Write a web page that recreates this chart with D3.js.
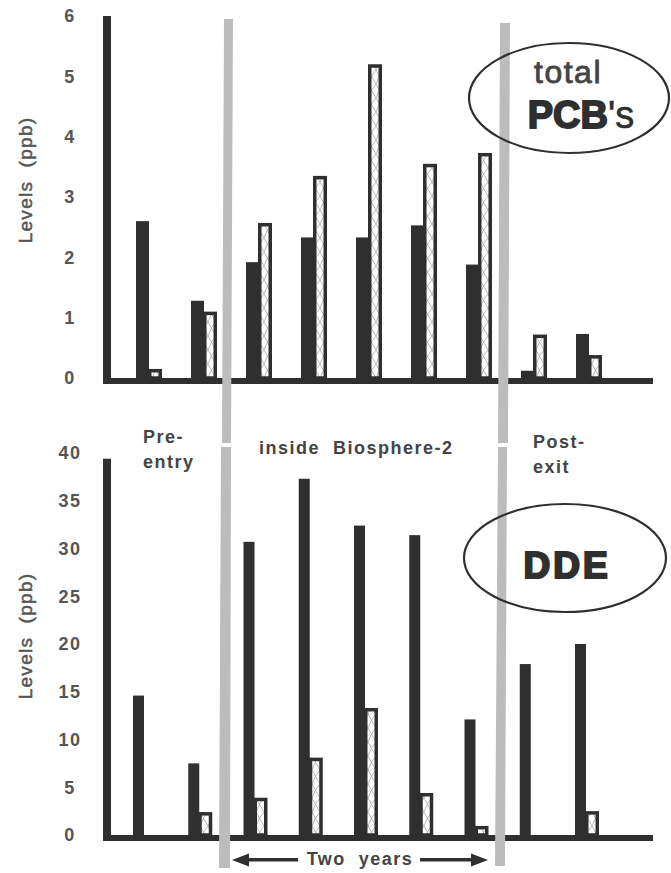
<!DOCTYPE html>
<html><head><meta charset="utf-8">
<script src="https://cdn.jsdelivr.net/npm/d3@7"></script>
<style>body{margin:0;background:#fff}svg{display:block}text{font-family:"Liberation Sans",Arial,sans-serif}</style>
</head><body>
<script>
// ---- data ----
const categories = ["Pre-entry 1","Pre-entry 2","Inside 1","Inside 2","Inside 3","Inside 4","Inside 5","Post-exit 1","Post-exit 2"];
const pcbSolid   = [2.6, 1.28, 1.92, 2.33, 2.33, 2.53, 1.88, 0.12, 0.73];
const pcbHatched = [0.15, 1.1, 2.57, 3.35, 5.2, 3.55, 3.73, 0.72, 0.38];
const ddeSolid   = [14.6, 7.5, 30.7, 37.3, 32.4, 31.4, 12.1, 17.9, 20.0];
const ddeHatched = [null, 2.4, 3.9, 8.1, 13.3, 4.4, 0.95, null, 2.5];
const pcbTicks = [0,1,2,3,4,5,6];
const ddeTicks = [0,5,10,15,20,25,30,35,40];
const periodLabels = [["Pre-","entry"],["inside  Biosphere-2"],["Post-","exit"]];
const yTitle = "Levels  (ppb)";

const W = 671, H = 873;
const ink = "#2f2f2f", txt = "#444", lab = "#555", band = "#bcbcbc";
const svg = d3.select("body").append("svg").attr("width", W).attr("height", H);

const defs = svg.append("defs");
const pat = defs.append("pattern").attr("id","hatch").attr("patternUnits","userSpaceOnUse")
  .attr("width",8).attr("height",14);
pat.append("rect").attr("width",8).attr("height",14).attr("fill","#fff");
pat.append("path").attr("d","M0,14 Q3,5 8,0 M0,0 Q5,9 8,14").attr("stroke","#a5a5a5").attr("stroke-width",0.8).attr("fill","none");

function panel(cfg){
  const g = svg.append("g");
  const y = d3.scaleLinear().domain([0, cfg.max]).range([cfg.y0, cfg.yTop]);
  const x = d3.scalePoint().domain(categories).range(cfg.xr);
  g.selectAll(".s").data(categories.map((c,i)=>({c, v:cfg.solid[i]}))).join("rect")
    .attr("x", d => x(d.c) - cfg.sw + 1).attr("width", cfg.sw)
    .attr("y", d => y(d.v)).attr("height", d => y(0) - y(d.v))
    .attr("fill", ink);
  const hw = cfg.hw, st = 3.5;
  g.selectAll(".h").data(categories.map((c,i)=>({c, v:cfg.hatched[i]})).filter(d=>d.v!=null)).join("rect")
    .attr("x", d => x(d.c) + st/2).attr("width", hw - st)
    .attr("y", d => y(d.v) + st/2).attr("height", d => y(0) - y(d.v) - st/2)
    .attr("fill", "url(#hatch)").attr("stroke", ink).attr("stroke-width", st);
  g.append("rect").attr("x", 103).attr("y", y(0)).attr("width", 653-103).attr("height", 6).attr("fill", ink);
  g.append("rect").attr("x", 103).attr("y", y(cfg.axisTop)).attr("width", 8).attr("height", y(0)-y(cfg.axisTop)+6).attr("fill", ink);
  const ax = g.append("g").call(d3.axisLeft(y).tickValues(cfg.ticks).tickSize(0).tickFormat(d3.format("d")));
  ax.select(".domain").remove();
  ax.selectAll("text").attr("x", 70).attr("dy", cfg.tickDy).attr("text-anchor","middle")
    .attr("font-size", 18).attr("font-weight","bold").attr("fill", lab).attr("letter-spacing", 1.5)
    .attr("font-family","'Liberation Sans',Arial,sans-serif");
  g.append("text").attr("transform", `translate(32,${cfg.titleY}) rotate(-90)`)
    .attr("text-anchor","middle").attr("font-size",19).attr("fill",lab)
    .attr("stroke",lab).attr("stroke-width",0.5)
    .attr("letter-spacing",1.3).style("white-space","pre").text(yTitle);
  return {g, y, x};
}

const pcbPanel = panel({max:6, y0:378, yTop:16, xr:[148,588], sw:13, hw:14, solid:pcbSolid, hatched:pcbHatched,
  ticks:pcbTicks, axisTop:6, tickDy:"0.32em", titleY:180});
const ddePanel = panel({max:40, y0:835, yTop:453, xr:[143,585], sw:11, hw:14, solid:ddeSolid, hatched:ddeHatched,
  ticks:ddeTicks, axisTop:39.4, tickDy:"0.32em", titleY:636});

const bands = [
  [[224,19],[233,19],[231,443],[222,443]],
  [[221,447],[231,447],[230,868],[219,868]],
  [[500,23],[510,23],[508,443],[498,443]],
  [[498,447],[507,447],[505,866],[495,866]]
];
svg.selectAll(".band").data(bands).join("polygon").attr("points", d => d.map(p=>p.join(",")).join(" ")).attr("fill", band);

svg.append("ellipse").attr("cx",569).attr("cy",98).attr("rx",100).attr("ry",55).attr("fill","none").attr("stroke",ink).attr("stroke-width",2.2);
svg.append("ellipse").attr("cx",565).attr("cy",558).attr("rx",101).attr("ry",54).attr("fill","none").attr("stroke",ink).attr("stroke-width",2.2);

svg.append("text").attr("x",568).attr("y",83).attr("text-anchor","middle").attr("font-size",32).attr("letter-spacing",1.5)
  .attr("fill",txt).attr("stroke",txt).attr("stroke-width",0.8).text("total");
const pcb = svg.append("text").attr("x",581).attr("y",128).attr("text-anchor","middle").attr("font-size",38).attr("fill",ink);
pcb.append("tspan").attr("font-weight","bold").attr("stroke",ink).attr("stroke-width",1.8).text("PCB");
pcb.append("tspan").attr("font-weight","normal").attr("stroke",ink).attr("stroke-width",0.6).text("'s");
svg.append("text").attr("x",567).attr("y",578).attr("text-anchor","middle").attr("font-size",37).attr("font-weight","bold")
  .attr("letter-spacing",3).attr("stroke",ink).attr("stroke-width",2.2).attr("fill",ink).text("DDE");

const lblStyle = s => s.attr("font-size",18).attr("font-weight","bold").attr("fill",txt).attr("letter-spacing",1.5).style("white-space","pre");
lblStyle(svg.append("text").attr("x",143).attr("y",443).text(periodLabels[0][0]));
lblStyle(svg.append("text").attr("x",143).attr("y",468).text(periodLabels[0][1]));
lblStyle(svg.append("text").attr("x",259).attr("y",454).text(periodLabels[1][0]));
lblStyle(svg.append("text").attr("x",533).attr("y",448).text(periodLabels[2][0]));
lblStyle(svg.append("text").attr("x",533).attr("y",473).text(periodLabels[2][1]));

lblStyle(svg.append("text").attr("x",360).attr("y",865).attr("text-anchor","middle").text("Two  years"));
svg.append("rect").attr("x",246).attr("y",858).attr("width",52).attr("height",3.5).attr("fill",ink);
svg.append("path").attr("d","M232,860 L249,853.5 L249,866.5 Z").attr("fill",ink);
svg.append("rect").attr("x",420).attr("y",858).attr("width",52).attr("height",3.5).attr("fill",ink);
svg.append("path").attr("d","M488,860 L471,853.5 L471,866.5 Z").attr("fill",ink);
</script>
</body></html>
